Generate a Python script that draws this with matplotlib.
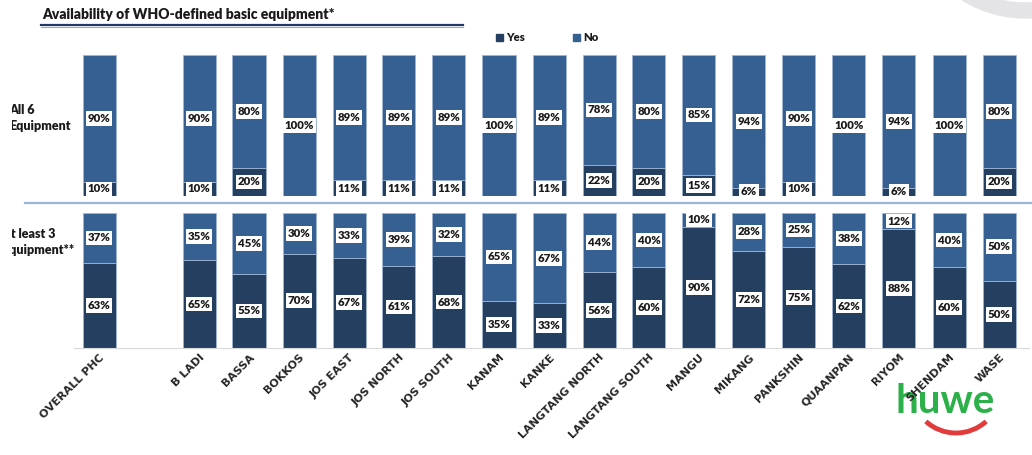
import matplotlib
matplotlib.use("Agg")
import matplotlib.pyplot as plt
from matplotlib.patches import Rectangle, Wedge, Arc
from matplotlib.lines import Line2D
from matplotlib.transforms import Affine2D, Bbox, TransformedBbox

W, H = 1032, 455

# LGAs (Overall PHC first, then a gap before the LGAs)
lgas = ["OVERALL PHC", "B LADI", "BASSA", "BOKKOS", "JOS EAST", "JOS NORTH",
        "JOS SOUTH", "KANAM", "KANKE", "LANGTANG NORTH", "LANGTANG SOUTH",
        "MANGU", "MIKANG", "PANKSHIN", "QUAANPAN", "RIYOM", "SHENDAM", "WASE"]

# % of PHCs with all 6 basic equipment
all6_yes = [10, 10, 20, 0, 11, 11, 11, 0, 11, 22, 20, 15, 6, 10, 0, 6, 0, 20]
all6_no = [90, 90, 80, 100, 89, 89, 89, 100, 89, 78, 80, 85, 94, 90, 100, 94, 100, 80]

# % of PHCs with at least 3 basic equipment
min3_yes = [63, 65, 55, 70, 67, 61, 68, 35, 33, 56, 60, 90, 72, 75, 62, 88, 60, 50]
min3_no = [37, 35, 45, 30, 33, 39, 32, 65, 67, 44, 40, 10, 28, 25, 38, 12, 40, 50]

YES = "#253f60"
NO = "#376092"
EDGE = "#9fb4d2"

fig = plt.figure(figsize=(W / 100, H / 100), dpi=100)
# pixel coordinates, origin bottom-left
px = Affine2D().scale(1 / W, 1 / H) + fig.transFigure

pos = [0] + list(range(2, 2 + len(lgas) - 1))


def draw_panel(ax, yes, no):
    ax.bar(pos, yes, width=0.66, color=YES, edgecolor=EDGE, linewidth=0.6)
    ax.bar(pos, no, bottom=yes, width=0.66, color=NO, edgecolor=EDGE, linewidth=0.6)
    for p, y, n in zip(pos, yes, no):
        for val, mid in ((y, y / 2), (n, y + n / 2)):
            if val > 0:
                ax.text(p, mid, f"{val}%", ha="center", va="center", fontsize=8.2,
                        fontweight="heavy", family="Lato", color="#1a1a1a",
                        bbox=dict(boxstyle="square,pad=0.16", fc="white", ec="none"))
    ax.set_xlim(-0.5, 18.6)
    ax.set_ylim(0, 100)
    ax.set_yticks([])
    for s in ax.spines.values():
        s.set_visible(False)


ax_top = fig.add_axes([74 / W, (H - 196) / H, (1029 - 74) / W, 141 / H])
draw_panel(ax_top, all6_yes, all6_no)
ax_top.set_xticks([])

ax_bot = fig.add_axes([74 / W, (H - 348) / H, (1029 - 74) / W, 135 / H])
draw_panel(ax_bot, min3_yes, min3_no)
ax_bot.spines["bottom"].set_visible(True)
ax_bot.spines["bottom"].set_color("#d9d9d9")
ax_bot.set_xticks(pos, labels=lgas, rotation=45, ha="right", rotation_mode="anchor",
                  fontsize=8, fontweight="bold", color="#262626")
ax_bot.tick_params(axis="x", length=0, pad=3)

# title with double underline
fig.text(42, H - 19, "Availability of WHO-defined basic equipment*", transform=px,
         fontsize=10, fontweight="heavy", family="Lato", color="#1a1a1a", va="baseline")
fig.add_artist(Line2D([41, 463], [H - 25, H - 25], transform=px, color="#1f3864", lw=1.6))
fig.add_artist(Line2D([41, 463], [H - 27.2, H - 27.2], transform=px, color="#8eaadb", lw=0.8))

# legend
for x, label, c in ((496, "Yes", YES), (573, "No", NO)):
    fig.add_artist(Rectangle((x, H - 41), 7, 7, transform=px, color=c))
    fig.text(x + 10, H - 37.5, label, transform=px, fontsize=8.2, fontweight="heavy",
             family="Lato", color="#1a1a1a", va="center")

# separator between the two panels
fig.add_artist(Line2D([25, W], [H - 203, H - 203], transform=px, color="#9bb5d8", lw=1.6))

# row labels, cut at the slide edge
clip = TransformedBbox(Bbox.from_extents(11.5, 0, W, H), px)
t1 = fig.text(9, H - 118, "All 6\nEquipment", transform=px, fontsize=9,
              fontweight="heavy", family="Lato", color="#1a1a1a", va="center",
              linespacing=1.3)
t2 = fig.text(2.5, H - 242, "At least 3\nEquipment**", transform=px, fontsize=9,
              fontweight="heavy", family="Lato", color="#1a1a1a", va="center",
              linespacing=1.3)
for t in (t1, t2):
    t.set_clip_box(clip)
    t.set_clip_on(True)

# grey ring in the corner
fig.add_artist(Wedge((1025, H + 100), 118, 180, 360, width=15, transform=px,
                     color="#e4e4e7", zorder=-1))

# huwe logo
fig.text(945, H - 413, "huwe", transform=px, fontsize=29, fontweight="bold",
         family="Lato", color="#2bb04a", ha="center", va="baseline", zorder=-1)
fig.add_artist(Arc((956, H - 388), 90, 90, theta1=228, theta2=312, transform=px,
                   color="#e23b3b", lw=3.5, zorder=-1))

fig.savefig("out.png", dpi=100, facecolor="white")
